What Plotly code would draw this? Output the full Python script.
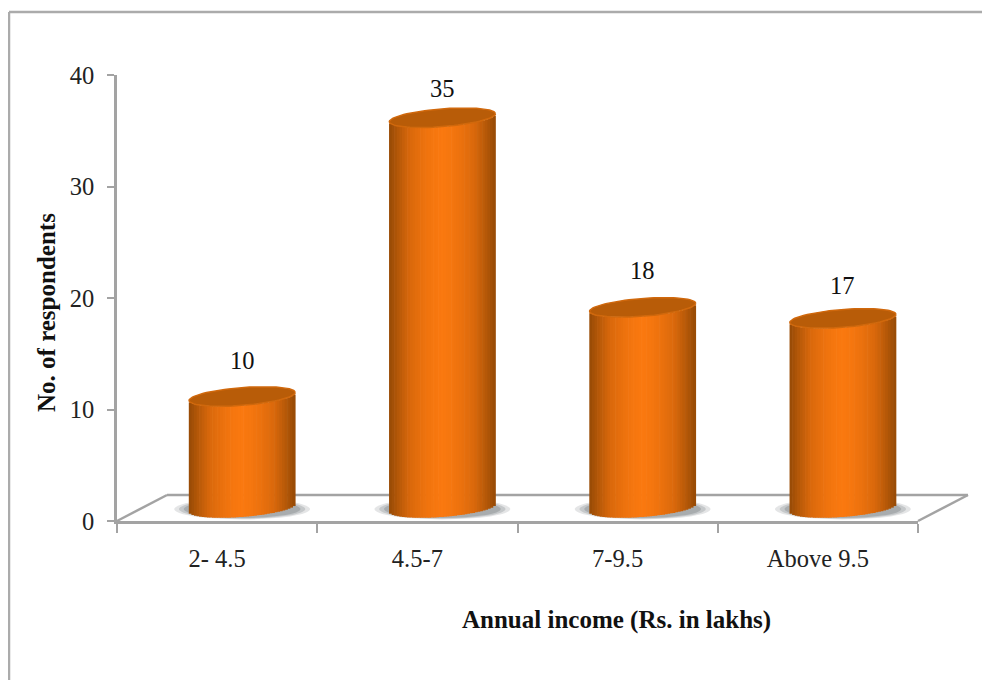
import numpy as np
import plotly.graph_objects as go

categories = ["2- 4.5", "4.5-7", "7-9.5", "Above 9.5"]
values = [10, 35, 18, 17]
y_ticks = [0, 10, 20, 30, 40]
x_title = "Annual income (Rs. in lakhs)"
y_title = "No. of respondents"
label_lift = [36, 29, 37, 33]   # px above each cylinder top

PAGE = 8                   # the browser's body margin
W, H = 990 - PAGE, 680 - PAGE
X0, X1 = 117, 918          # front plot area, window px
Y0, Y40 = 521, 75
SHIFT_X, SHIFT_Y = 25, 13  # cylinders stand deeper on the floor
BAR_W = 0.53               # in category units
N = 41
B_H = 0.80                 # half-height of the ellipse, value units
TILT = 0.36                # tilt of the ellipse, value units
Y2_LOW = -3                # room under the cylinders for their curved bases
GREY = "#a3a3a3"
FONT = "Liberation Serif"
FS = 24.5
PX_PER_UNIT = (Y0 - Y40) / 40


def px(x):
    return (x - PAGE) / W


def py(y):
    return 1 - (y - PAGE) / H


def shade(u):
    """u in [-1, 1] across the cylinder."""
    dark = np.array([150, 74, 6])
    mid = np.array([218, 105, 12])
    hi = np.array([250, 121, 16])
    t = abs(u)
    if t > 0.6:
        c = mid + (dark - mid) * ((t - 0.6) / 0.4) ** 1.1
    else:
        c = hi + (mid - hi) * (t / 0.6) ** 1.5
    return "rgb(%d,%d,%d)" % tuple(c)


fig = go.Figure()
xs = np.arange(len(categories), dtype=float)
vals = np.array(values, dtype=float)

shapes = []
# floor
for (a, b, c, d) in [(X0, Y0, X0 + 50, 495), (X0 + 50, 495, 968, 495), (968, 495, X1, Y0)]:
    shapes.append(dict(type="line", xref="paper", yref="paper", x0=px(a), y0=py(b), x1=px(c), y1=py(d),
                       line=dict(color=GREY, width=2.5), layer="below"))
# slide frame
for (a, b, c, d) in [(9, 12, 9, 680), (9, 12, 990, 12)]:
    shapes.append(dict(type="line", xref="paper", yref="paper", x0=px(a), y0=py(b), x1=px(c), y1=py(d),
                       line=dict(color="#ababab", width=2.5), layer="below"))
# soft shadows on the floor, under the cylinders
for scale, op in [(1.28, 0.20), (1.19, 0.28), (1.10, 0.38)]:
    for x in xs:
        shapes.append(dict(type="circle", xref="x2", yref="y2", layer="below", line=dict(width=0),
                           x0=x - BAR_W / 2 * scale, x1=x + BAR_W / 2 * scale,
                           y0=-B_H * scale * 0.9 - 0.1, y1=B_H * scale * 0.9 - 0.1,
                           fillcolor=f"rgba(120,125,130,{op})"))

# invisible trace that keeps the front axes drawn
fig.add_trace(go.Scatter(x=xs, y=vals, mode="markers", marker=dict(opacity=0), hoverinfo="skip", showlegend=False))

# cylinder bodies: thin vertical slices, so the sides follow the shading
us = (np.arange(N) + 0.5) / N * 2 - 1
for u in us:
    s = np.sqrt(1 - u ** 2)
    low = -B_H * s + TILT * u
    fig.add_trace(go.Bar(
        x=xs, y=vals, base=low, width=BAR_W / N * 1.25, offset=u * BAR_W / 2 - BAR_W / N * 0.6,
        marker=dict(color=shade(u), line=dict(width=0)),
        xaxis="x2", yaxis="y2", hoverinfo="skip", showlegend=False))

# cylinder tops
t = np.linspace(0, 2 * np.pi, 80)
for x, v in zip(xs, vals):
    fig.add_trace(go.Scatter(
        x=x + BAR_W / 2 * np.cos(t), y=v + B_H * np.sin(t) + TILT * np.cos(t),
        xaxis="x2", yaxis="y2", mode="lines", fill="toself",
        line=dict(width=1.5, color="#d0680c"), fillcolor="#b85c08",
        hoverinfo="skip", showlegend=False))

# value labels and axis titles
annotations = [dict(x=x, y=v, xref="x2", yref="y2", text=str(v), showarrow=False, yshift=lift,
                    font=dict(family=FONT, size=FS, color="#111"))
               for x, v, lift in zip(xs, values, label_lift)]
annotations.append(dict(x=px(616), y=py(620), xref="paper", yref="paper", xanchor="center", yanchor="middle",
                        text=f"<b>{x_title}</b>", showarrow=False, font=dict(family=FONT, size=25, color="#111")))
annotations.append(dict(x=px(46), y=py(313), xref="paper", yref="paper", xanchor="center", yanchor="middle",
                        text=f"<b>{y_title}</b>", textangle=-90,
                        showarrow=False, font=dict(family=FONT, size=25, color="#111")))

tickfont = dict(family=FONT, size=FS, color="#222")
fig.update_layout(
    width=W, height=H, margin=dict(l=0, r=0, t=0, b=0, autoexpand=False),
    paper_bgcolor="white", plot_bgcolor="rgba(0,0,0,0)",
    barmode="overlay", showlegend=False, annotations=annotations, shapes=shapes,
    xaxis=dict(domain=[px(X0), px(X1)], range=[-0.5, 3.5], tickvals=[0, 1, 2, 3], ticktext=categories,
               showgrid=False, zeroline=False, showline=True, linecolor=GREY, linewidth=2.5,
               tickfont=tickfont, ticks="", ticklabelstandoff=14,
               minor=dict(tickvals=[-0.5, 0.5, 1.5, 2.5, 3.5], ticks="outside", ticklen=9, tickwidth=2,
                          tickcolor=GREY)),
    yaxis=dict(domain=[py(Y0), py(Y40)], range=[0, 40], tickvals=y_ticks, showgrid=False, zeroline=False,
               showline=True, linecolor=GREY, linewidth=2.5, ticks="outside", ticklen=7, tickwidth=2, tickcolor=GREY,
               tickfont=tickfont, ticklabelstandoff=8),
    xaxis2=dict(domain=[px(X0 + SHIFT_X), px(X1 + SHIFT_X)], range=[-0.5, 3.5], anchor="y2", visible=False),
    yaxis2=dict(domain=[py(Y0 - SHIFT_Y - Y2_LOW * PX_PER_UNIT), py(Y40 - SHIFT_Y)], range=[Y2_LOW, 40],
                anchor="x2", visible=False),
)
fig.write_html("out.html")
